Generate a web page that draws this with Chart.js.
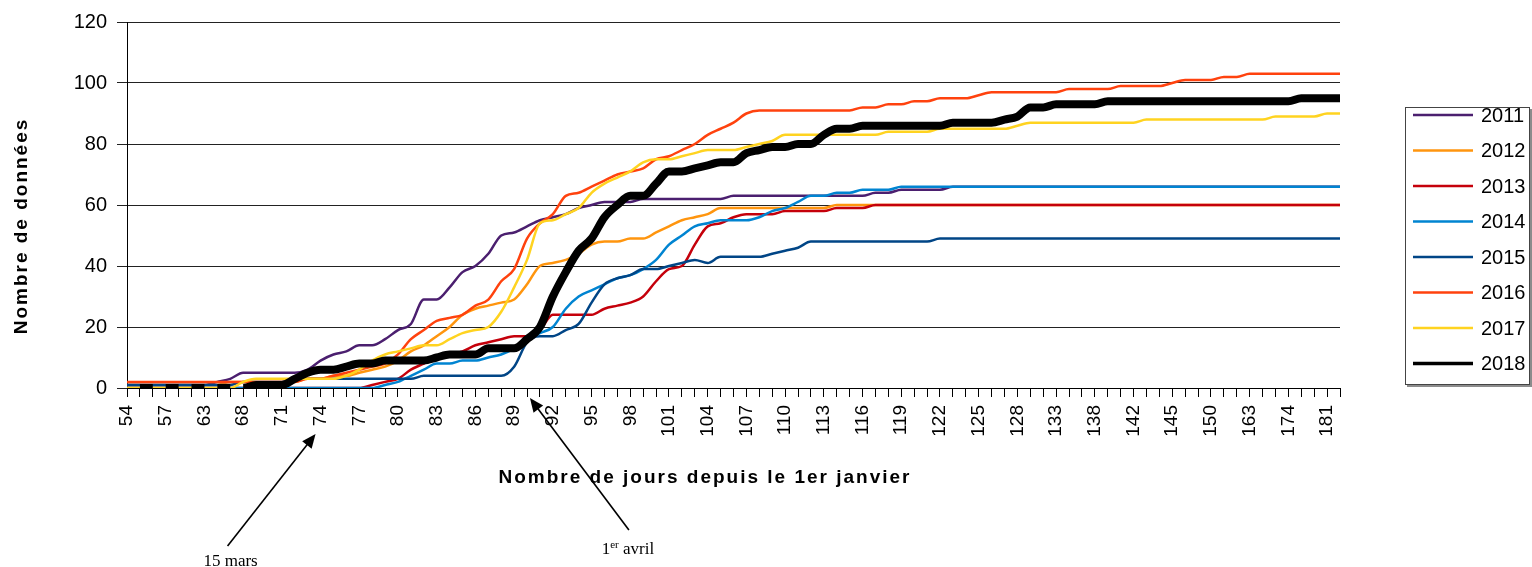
<!DOCTYPE html>
<html lang="fr">
<head>
<meta charset="utf-8">
<title>Nombre de données</title>
<script src="https://cdn.jsdelivr.net/npm/chart.js@4.4.1/dist/chart.umd.min.js"></script>
<style>
  html, body { margin: 0; padding: 0; background: #fff; }
  #wrap { position: relative; width: 1532px; height: 567px; }
</style>
</head>
<body>
<div id="wrap"><canvas id="progression"></canvas></div>
<script>
// jours depuis le 1er janvier (une catégorie par relevé)
const days = [
  54, 55, 56, 57, 59, 61, 63, 64, 66, 68,
  69, 70, 71, 72, 73, 74, 75, 76, 77, 78,
  79, 80, 81, 82, 83, 84, 85, 86, 87, 88,
  89, 90, 91, 92, 93, 94, 95, 96, 97, 98,
  99, 100, 101, 102, 103, 104, 105, 106, 107, 108,
  109, 110, 111, 112, 113, 114, 115, 116, 117, 118,
  119, 120, 121, 122, 123, 124, 125, 126, 127, 128,
  130, 131, 133, 135, 136, 138, 140, 141, 142, 143,
  144, 145, 147, 148, 150, 155, 159, 163, 167, 170,
  174, 177, 179, 181, 182,
];

const years = ['2011', '2012', '2013', '2014', '2015', '2016', '2017', '2018'];
const yearColors = ['#4b1f6f', '#ff950e', '#c5000b', '#0084d1', '#004586', '#ff420e', '#ffd320', '#000000'];

const data2011 = [
  1, 1, 1, 1, 1, 1, 1, 2, 3, 5,
  5, 5, 5, 5, 6, 9, 11, 12, 14, 14,
  16, 19, 21, 29, 29, 33, 38, 40, 44, 50,
  51, 53, 55, 56, 57, 59, 60, 61, 61, 61,
  62, 62, 62, 62, 62, 62, 62, 63, 63, 63,
  63, 63, 63, 63, 63, 63, 63, 63, 64, 64,
  65, 65, 65, 65, 66, 66, 66, 66, 66, 66,
  66, 66, 66, 66, 66, 66, 66, 66, 66, 66,
  66, 66, 66, 66, 66, 66, 66, 66, 66, 66,
  66, 66, 66, 66, 66,
];
const data2012 = [
  1, 1, 1, 1, 1, 1, 1, 1, 2, 2,
  2, 2, 2, 2, 3, 3, 4, 4, 5, 6,
  7, 9, 12, 14, 17, 20, 24, 26, 27, 28,
  29, 34, 40, 41, 42, 44, 47, 48, 48, 49,
  49, 51, 53, 55, 56, 57, 59, 59, 59, 59,
  59, 59, 59, 59, 59, 60, 60, 60, 60, 60,
  60, 60, 60, 60, 60, 60, 60, 60, 60, 60,
  60, 60, 60, 60, 60, 60, 60, 60, 60, 60,
  60, 60, 60, 60, 60, 60, 60, 60, 60, 60,
  60, 60, 60, 60, 60,
];
const data2013 = [
  0, 0, 0, 0, 0, 0, 0, 0, 0, 0,
  0, 0, 0, 0, 0, 0, 0, 0, 0, 1,
  2, 3, 6, 8, 10, 11, 12, 14, 15, 16,
  17, 17, 19, 24, 24, 24, 24, 26, 27, 28,
  30, 35, 39, 40, 47, 53, 54, 56, 57, 57,
  57, 58, 58, 58, 58, 59, 59, 59, 60, 60,
  60, 60, 60, 60, 60, 60, 60, 60, 60, 60,
  60, 60, 60, 60, 60, 60, 60, 60, 60, 60,
  60, 60, 60, 60, 60, 60, 60, 60, 60, 60,
  60, 60, 60, 60, 60,
];
const data2014 = [
  0, 0, 0, 0, 0, 0, 0, 0, 0, 0,
  0, 0, 0, 0, 0, 0, 0, 0, 0, 0,
  1, 2, 4, 6, 8, 8, 9, 9, 10, 11,
  13, 16, 18, 20, 26, 30, 32, 34, 36, 37,
  39, 42, 47, 50, 53, 54, 55, 55, 55, 56,
  58, 59, 61, 63, 63, 64, 64, 65, 65, 65,
  66, 66, 66, 66, 66, 66, 66, 66, 66, 66,
  66, 66, 66, 66, 66, 66, 66, 66, 66, 66,
  66, 66, 66, 66, 66, 66, 66, 66, 66, 66,
  66, 66, 66, 66, 66,
];
const data2015 = [
  1, 1, 1, 1, 1, 1, 1, 1, 1, 2,
  2, 2, 2, 3, 3, 3, 3, 3, 3, 3,
  3, 3, 3, 4, 4, 4, 4, 4, 4, 4,
  7, 15, 17, 17, 19, 21, 28, 34, 36, 37,
  39, 39, 40, 41, 42, 41, 43, 43, 43, 43,
  44, 45, 46, 48, 48, 48, 48, 48, 48, 48,
  48, 48, 48, 49, 49, 49, 49, 49, 49, 49,
  49, 49, 49, 49, 49, 49, 49, 49, 49, 49,
  49, 49, 49, 49, 49, 49, 49, 49, 49, 49,
  49, 49, 49, 49, 49,
];
const data2016 = [
  2, 2, 2, 2, 2, 2, 2, 2, 2, 2,
  2, 2, 2, 2, 3, 3, 4, 5, 6, 7,
  8, 11, 16, 19, 22, 23, 24, 27, 29, 35,
  39, 49, 54, 57, 63, 64, 66, 68, 70, 71,
  72, 75, 76, 78, 80, 83, 85, 87, 90, 91,
  91, 91, 91, 91, 91, 91, 91, 92, 92, 93,
  93, 94, 94, 95, 95, 95, 96, 97, 97, 97,
  97, 97, 97, 98, 98, 98, 98, 99, 99, 99,
  99, 100, 101, 101, 101, 102, 102, 103, 103, 103,
  103, 103, 103, 103, 103,
];
const data2017 = [
  0, 0, 0, 0, 0, 0, 0, 0, 0, 2,
  3, 3, 3, 3, 3, 3, 3, 4, 6, 9,
  11, 12, 13, 14, 14, 16, 18, 19, 20, 25,
  33, 42, 54, 55, 57, 59, 64, 67, 69, 71,
  74, 75, 75, 76, 77, 78, 78, 78, 79, 80,
  81, 83, 83, 83, 83, 83, 83, 83, 83, 84,
  84, 84, 84, 85, 85, 85, 85, 85, 85, 86,
  87, 87, 87, 87, 87, 87, 87, 87, 87, 88,
  88, 88, 88, 88, 88, 88, 88, 88, 88, 89,
  89, 89, 89, 90, 90,
];
const data2018 = [
  0, 0, 0, 0, 0, 0, 0, 0, 0, 0,
  1, 1, 1, 3, 5, 6, 6, 7, 8, 8,
  9, 9, 9, 9, 10, 11, 11, 11, 13, 13,
  13, 16, 20, 30, 38, 45, 49, 56, 60, 63,
  63, 67, 71, 71, 72, 73, 74, 74, 77, 78,
  79, 79, 80, 80, 83, 85, 85, 86, 86, 86,
  86, 86, 86, 86, 87, 87, 87, 87, 88, 89,
  92, 92, 93, 93, 93, 93, 94, 94, 94, 94,
  94, 94, 94, 94, 94, 94, 94, 94, 94, 94,
  94, 95, 95, 95, 95,
];

const yearSeries = [data2011, data2012, data2013, data2014, data2015, data2016, data2017, data2018];

const xTitle = 'Nombre de jours depuis le 1er janvier';
const yTitle = 'Nombre de données';
const SANS = '"Liberation Sans", Arial, sans-serif';
const SERIF = '"Liberation Serif", "Times New Roman", serif';

// la série 2018 n'apparaît qu'un relevé sur deux avant le 68e jour
function segmentColor(ctx) {
  return ctx.p0DataIndex < 9 && ctx.p0DataIndex % 2 === 0 ? 'rgba(0,0,0,0)' : '#000000';
}

function drawArrow(ctx, x0, y0, x1, y1) {
  const angle = Math.atan2(y1 - y0, x1 - x0);
  const head = 14;
  ctx.beginPath();
  ctx.moveTo(x0, y0);
  ctx.lineTo(x1 - Math.cos(angle) * head * 0.8, y1 - Math.sin(angle) * head * 0.8);
  ctx.stroke();
  ctx.beginPath();
  ctx.moveTo(x1, y1);
  ctx.lineTo(x1 - head * Math.cos(angle) + 6 * Math.sin(angle), y1 - head * Math.sin(angle) - 6 * Math.cos(angle));
  ctx.lineTo(x1 - head * Math.cos(angle) - 6 * Math.sin(angle), y1 - head * Math.sin(angle) + 6 * Math.cos(angle));
  ctx.closePath();
  ctx.fill();
}

const extrasPlugin = {
  id: 'extras',
  afterDraw(chart) {
    const { ctx, chartArea, scales } = chart;
    const xScale = scales.x;
    ctx.save();
    ctx.fillStyle = '#000';

    // titres des axes
    ctx.font = 'bold 19px ' + SANS;
    ctx.letterSpacing = '2px';
    ctx.textAlign = 'center';
    ctx.textBaseline = 'middle';
    ctx.fillText(xTitle, chartArea.left + 578, chartArea.bottom + 90);
    ctx.save();
    ctx.translate(22, 226);
    ctx.rotate(-Math.PI / 2);
    ctx.fillText(yTitle, 0, 0);
    ctx.restore();
    ctx.letterSpacing = '0px';

    // légende
    const lx = chartArea.right + 65;
    const ly = 107;
    const lw = 125;
    const lh = 278;
    ctx.fillStyle = '#8c8c8c';
    ctx.fillRect(lx + 2, ly + 2, lw, lh);
    ctx.fillStyle = '#fff';
    ctx.fillRect(lx, ly, lw, lh);
    ctx.strokeStyle = '#444';
    ctx.lineWidth = 1;
    ctx.strokeRect(lx + 0.5, ly + 0.5, lw - 1, lh - 1);
    ctx.font = '20px ' + SANS;
    ctx.textAlign = 'left';
    chart.data.datasets.forEach((ds, k) => {
      const y = ly + 8 + k * 35.5;
      ctx.strokeStyle = ds.borderColor;
      ctx.lineWidth = k === 7 ? 3.5 : 2.5;
      ctx.beginPath();
      ctx.moveTo(lx + 8, y);
      ctx.lineTo(lx + 68, y);
      ctx.stroke();
      ctx.fillStyle = '#000';
      ctx.fillText(ds.label, lx + 76, y + 1);
    });

    // annotations : 15 mars (jour 74) et 1er avril (jour 91)
    ctx.strokeStyle = '#000';
    ctx.fillStyle = '#000';
    ctx.lineWidth = 1.6;
    const xMars = xScale.getPixelForValue(days.indexOf(74));
    const xAvril = xScale.getPixelForValue(days.indexOf(91));
    const b = chartArea.bottom;
    drawArrow(ctx, xMars - 93, b + 158, xMars - 5, b + 46);
    drawArrow(ctx, xAvril + 89, b + 142, xAvril - 10, b + 10);

    ctx.font = '17px ' + SERIF;
    ctx.textBaseline = 'alphabetic';
    ctx.textAlign = 'center';
    ctx.fillText('15 mars', xMars - 90, b + 178);

    const big = '17px ' + SERIF;
    const small = '11px ' + SERIF;
    ctx.font = big;
    const w1 = ctx.measureText('1').width;
    const w3 = ctx.measureText(' avril').width;
    ctx.font = small;
    const w2 = ctx.measureText('er').width;
    let tx = xAvril + 88 - (w1 + w2 + w3) / 2;
    const ty = b + 166;
    ctx.textAlign = 'left';
    ctx.font = big;
    ctx.fillText('1', tx, ty);
    tx += w1;
    ctx.font = small;
    ctx.fillText('er', tx, ty - 6);
    tx += w2;
    ctx.font = big;
    ctx.fillText(' avril', tx, ty);

    ctx.restore();
  },
};

const progressionChart = document.getElementById('progression');

new Chart(progressionChart, {
  type: 'line',
  data: {
    labels: days,
    datasets: years.map((year, k) => ({
      label: year,
      data: yearSeries[k],
      borderColor: yearColors[k],
      backgroundColor: yearColors[k],
      borderWidth: k === 7 ? 8 : 2.5,
      pointRadius: 0,
      pointHoverRadius: 0,
      cubicInterpolationMode: 'monotone',
      order: 7 - k,
      segment: k === 7 ? { borderColor: segmentColor } : undefined,
    })),
  },
  options: {
    responsive: true,
    maintainAspectRatio: false,
    animation: false,
    events: [],
    layout: {
      padding: { left: 0, right: 192, top: 20, bottom: 0 },
    },
    plugins: {
      legend: { display: false },
      tooltip: { enabled: false },
      title: { display: false },
    },
    scales: {
      x: {
        type: 'category',
        offset: false,
        afterFit: scale => {
          scale.height = 179;
        },
        grid: {
          drawOnChartArea: false,
          drawTicks: true,
          tickLength: 9,
          color: '#000',
        },
        border: { display: true, color: '#000', width: 1 },
        ticks: {
          autoSkip: false,
          minRotation: 90,
          maxRotation: 90,
          padding: 8,
          color: '#000',
          font: { family: SANS, size: 19 },
          callback: (value, index) => (index % 3 === 0 ? String(days[index]) : ''),
        },
      },
      y: {
        min: 0,
        max: 120,
        afterFit: scale => {
          scale.width = 127;
        },
        grid: {
          color: '#222',
          tickLength: 10,
        },
        border: { display: true, color: '#000', width: 1 },
        ticks: {
          stepSize: 20,
          padding: 10,
          color: '#000',
          font: { family: SANS, size: 20 },
        },
      },
    },
  },
  plugins: [extrasPlugin],
});
</script>
</body>
</html>
